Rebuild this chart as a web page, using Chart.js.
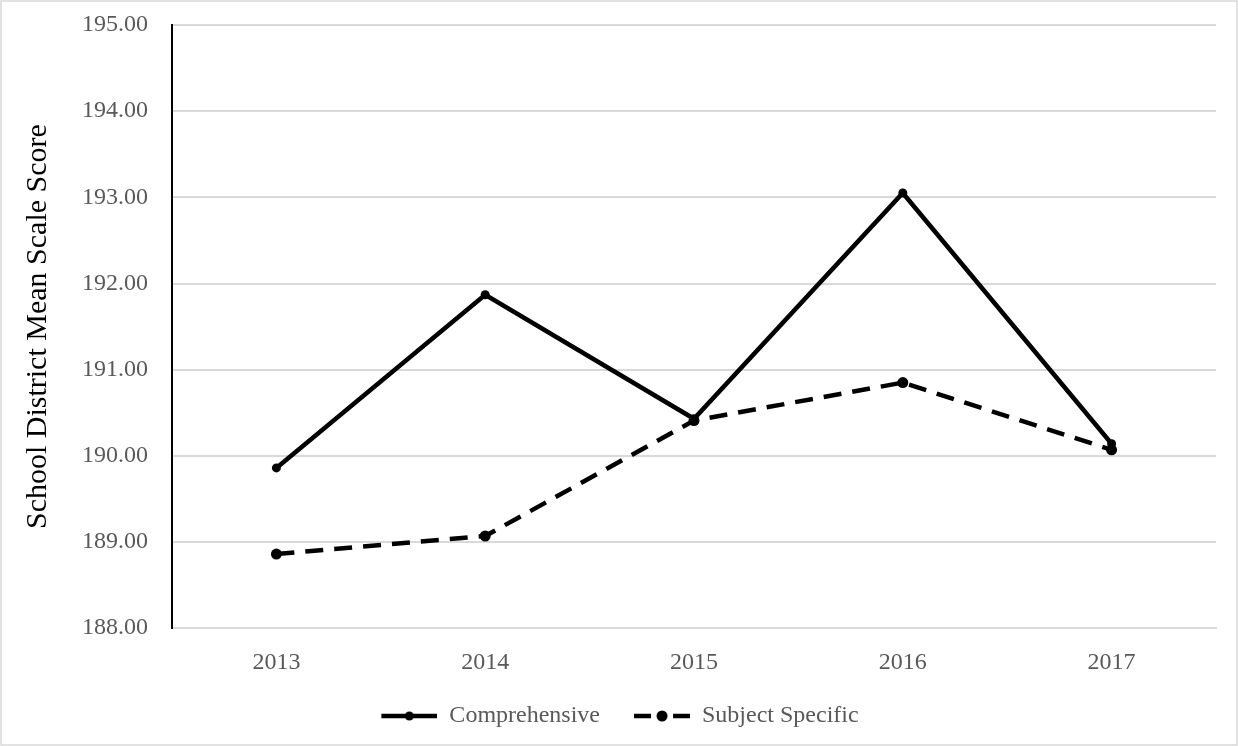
<!DOCTYPE html>
<html>
<head>
<meta charset="utf-8">
<script src="https://cdn.jsdelivr.net/npm/chart.js@4.4.1/dist/chart.umd.min.js"></script>
<style>
  html, body { margin: 0; padding: 0; background: #fff; }
  #wrap { width: 1238px; height: 746px; }
</style>
</head>
<body>
<div id="wrap"><canvas id="grafico" width="1238" height="746"></canvas></div>
<script>
// dados
const anos = ['2013', '2014', '2015', '2016', '2017'];
const comprehensive = [189.86, 191.87, 190.43, 193.05, 190.14];
const subjectSpecific = [188.86, 189.07, 190.41, 190.85, 190.07];
const yMin = 188;
const yMax = 195;

const fonte = '"Liberation Serif", "Times New Roman", serif';

// amostra da legenda: linha com ponto no meio (margem transparente à esquerda = espaço entre itens)
function amostraLegenda(tracejado) {
    const margem = 24;
    const c = document.createElement('canvas');
    c.width = 56 + margem;
    c.height = 12;
    const ctx = c.getContext('2d');
    ctx.strokeStyle = '#000';
    ctx.lineWidth = 4.5;
    ctx.beginPath();
    if (tracejado) {
        ctx.moveTo(margem, 6);
        ctx.lineTo(margem + 17, 6);
        ctx.moveTo(margem + 39, 6);
        ctx.lineTo(margem + 56, 6);
    } else {
        ctx.moveTo(margem, 6);
        ctx.lineTo(margem + 56, 6);
    }
    ctx.stroke();
    ctx.fillStyle = '#000';
    ctx.beginPath();
    ctx.arc(margem + 28, 6, tracejado ? 5.5 : 4.5, 0, Math.PI * 2);
    ctx.fill();
    return c;
}

// borda externa do gráfico
const bordaPlugin = {
    id: 'borda',
    afterDraw(chart) {
        const ctx = chart.ctx;
        ctx.save();
        ctx.strokeStyle = '#d9d9d9';
        ctx.lineWidth = 1.5;
        ctx.strokeRect(1, 1, chart.width - 2, chart.height - 2);
        ctx.restore();
    }
};

const ctx = document.getElementById('grafico').getContext('2d');
const chart = new Chart(ctx, {
    type: 'line',
    data: {
        labels: anos,
        datasets: [
            {
                label: 'Comprehensive',
                data: comprehensive,
                borderColor: '#000',
                backgroundColor: '#000',
                borderWidth: 4.5,
                pointRadius: 4.5,
                pointBackgroundColor: '#000',
                pointBorderWidth: 0,
                tension: 0
            },
            {
                label: 'Subject Specific',
                data: subjectSpecific,
                borderColor: '#000',
                backgroundColor: '#000',
                borderWidth: 4.5,
                borderDash: [18, 11],
                pointRadius: 5.5,
                pointBackgroundColor: '#000',
                pointBorderWidth: 0,
                tension: 0
            }
        ]
    },
    options: {
        responsive: false,
        animation: false,
        layout: { padding: { left: 0, right: 22, top: 25, bottom: 8 } },
        scales: {
            x: {
                offset: true,
                afterFit: s => { s.height += 5; },
                grid: { display: false },
                border: { display: true, color: '#d9d9d9', width: 2 },
                ticks: { color: '#595959', font: { family: fonte, size: 24 }, padding: 12 }
            },
            y: {
                min: yMin,
                max: yMax,
                afterFit: s => { s.width = 172; },
                grid: {
                    color: '#d9d9d9',
                    lineWidth: 2,
                    drawTicks: true,
                    tickLength: 24,
                    tickColor: 'rgba(0,0,0,0)'
                },
                border: { display: true, color: '#000', width: 2 },
                ticks: {
                    stepSize: 1,
                    color: '#595959',
                    padding: 0,
                    font: { family: fonte, size: 24 },
                    callback: v => v.toFixed(2)
                },
                title: {
                    display: true,
                    text: 'School District Mean Scale Score',
                    color: '#000',
                    font: { family: fonte, size: 30 },
                    padding: { top: 20, bottom: 0 }
                }
            }
        },
        plugins: {
            legend: {
                position: 'bottom',
                labels: {
                    usePointStyle: true,
                    pointStyleWidth: 80,
                    color: '#595959',
                    font: { family: fonte, size: 24 },
                    padding: 10,
                    generateLabels: function (c) {
                        return c.data.datasets.map((ds, i) => ({
                            text: ds.label,
                            fillStyle: '#000',
                            strokeStyle: '#000',
                            lineWidth: 0,
                            pointStyle: amostraLegenda(i === 1),
                            hidden: false,
                            datasetIndex: i,
                            fontColor: '#595959'
                        }));
                    }
                }
            },
            tooltip: { enabled: false }
        }
    },
    plugins: [bordaPlugin]
});
</script>
</body>
</html>
